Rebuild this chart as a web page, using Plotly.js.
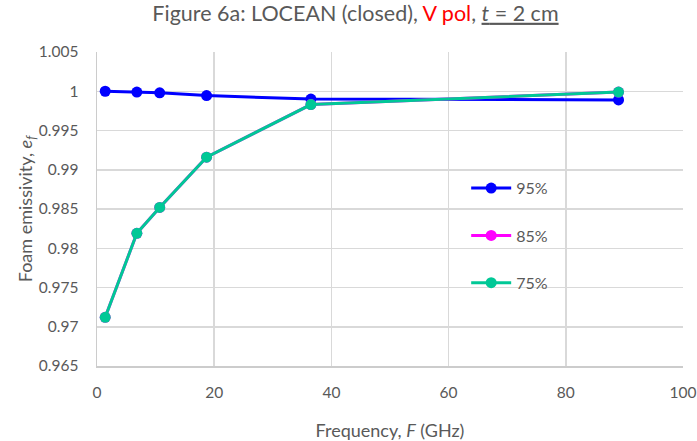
<!DOCTYPE html>
<html>
<head>
<meta charset="utf-8">
<script src="https://cdn.plot.ly/plotly-3.0.1.min.js"></script>
<style>html,body{margin:0;padding:0;background:#fff;}#chart{width:697px;height:441px;}</style>
</head>
<body>
<div id="chart"></div>
<script>
const freq = [1.4, 6.8, 10.7, 18.7, 36.5, 89];
const e95 = [1.0, 0.9999, 0.9998, 0.99945, 0.9990, 0.9989];
const e85 = [0.9712, 0.9819, 0.9852, 0.9916, 0.9983, 0.9999];
const e75 = [0.9712, 0.9819, 0.9852, 0.9916, 0.9983, 0.9999];
const names = ['95%', '85%', '75%'];
const colors = ['#0000ff', '#ff00ff', '#00c896'];
const series = [e95, e85, e75];
const yTicks = [0.965, 0.97, 0.975, 0.98, 0.985, 0.99, 0.995, 1, 1.005];
const yTickText = ['0.965', '0.97', '0.975', '0.98', '0.985', '0.99', '0.995', '1', '1.005'];

const traces = series.map((ys, i) => ({
  x: freq, y: ys, name: names[i], type: 'scatter', mode: 'lines+markers',
  line: {color: colors[i], width: 3},
  marker: {color: colors[i], size: 11},
  legendgroup: 'g' + i
}));

const font = 'Lato, "Open Sans", sans-serif';
const layout = {
  width: 697, height: 441,
  margin: {l: 97, r: 14, t: 52, b: 75},
  paper_bgcolor: '#fff', plot_bgcolor: '#fff',
  font: {family: font, color: '#595959', size: 15},
  title: {
    text: 'Figure 6a: LOCEAN (closed), <span style="color:#ff0000">V pol</span>, <u><i>t</i> = 2 cm</u>',
    font: {size: 21.5, color: '#595959', family: font},
    x: 0.51, xanchor: 'center', y: 0.97, yanchor: 'middle'
  },
  xaxis: {
    range: [0, 100], dtick: 20, tick0: 0,
    showgrid: true, gridcolor: '#d9d9d9', gridwidth: 1.5,
    zeroline: false, showline: true, linecolor: '#cccccc', linewidth: 1.5,
    ticks: '', tickfont: {size: 15.5, color: '#595959'}, ticklabelstandoff: 12,
    title: {text: 'Frequency, <i>F</i> (GHz)', font: {size: 18, color: '#595959'}, standoff: 26}
  },
  yaxis: {
    range: [0.965, 1.005],
    tickmode: 'array', tickvals: yTicks, ticktext: yTickText,
    showgrid: true, gridcolor: '#d9d9d9', gridwidth: 1.5,
    zeroline: false, showline: true, linecolor: '#cccccc', linewidth: 1.5,
    ticks: '', tickfont: {size: 15.5, color: '#595959'}, ticklabelstandoff: 14,
    title: {text: 'Foam emissivity, <i>e<sub>f</sub></i>', font: {size: 18, color: '#595959'}, standoff: 1}
  },
  showlegend: true,
  legend: {
    x: 0.63, y: 0.415, xanchor: 'left', yanchor: 'middle',
    bgcolor: 'rgba(0,0,0,0)', font: {size: 16, color: '#595959'},
    tracegroupgap: 23.5, traceorder: 'grouped', itemwidth: 40
  }
};

Plotly.newPlot('chart', traces, layout, {displayModeBar: false, staticPlot: true});
</script>
</body>
</html>
